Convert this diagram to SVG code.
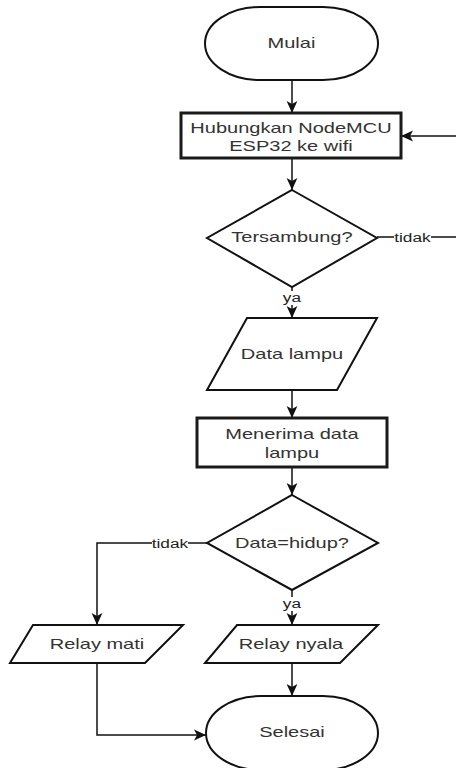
<svg xmlns="http://www.w3.org/2000/svg" width="456" height="768" viewBox="0 0 456 768">
<style>
.bg{fill:#ffffff}
.sh{fill:#ffffff;stroke:#111111;stroke-width:2}
.bx{fill:#ffffff;stroke:#1a1a1a;stroke-width:3}
.ln{fill:none;stroke:#111111;stroke-width:1.5}
.t{font-family:"Liberation Sans",Arial,sans-serif;font-size:14.5px;fill:#333333;text-anchor:middle;dominant-baseline:central;transform-box:fill-box;transform-origin:center;transform:scaleX(1.38)}
.lb{font-family:"Liberation Sans",Arial,sans-serif;font-size:12.5px;fill:#222222;text-anchor:middle;dominant-baseline:central;transform-box:fill-box;transform-origin:center;transform:scaleX(1.38)}
.lbg{fill:#ffffff}
</style>
<defs>
<marker id="arr" markerUnits="userSpaceOnUse" markerWidth="12" markerHeight="12" viewBox="0 0 10 10" refX="10" refY="5" orient="auto">
<path d="M0,0.5 L10,5 L0,9.5 L2.5,5 Z" fill="#111111"/>
</marker>
</defs>
<rect class="bg" x="0" y="0" width="456" height="768"/>
<g id="connectors">
<path class="ln" d="M292,80 V113" marker-end="url(#arr)"/>
<path class="ln" d="M292,158 V190" marker-end="url(#arr)"/>
<path class="ln" d="M377,237 H470 V136 H401" marker-end="url(#arr)"/>
<path class="ln" d="M292,287 V318" marker-end="url(#arr)"/>
<path class="ln" d="M292,390 V418" marker-end="url(#arr)"/>
<path class="ln" d="M292,467 V495" marker-end="url(#arr)"/>
<path class="ln" d="M207,543 H97 V625" marker-end="url(#arr)"/>
<path class="ln" d="M292,590 V625" marker-end="url(#arr)"/>
<path class="ln" d="M292,663 V696" marker-end="url(#arr)"/>
<path class="ln" d="M97,663 V735 H206" marker-end="url(#arr)"/>
<rect class="lbg" x="394" y="229" width="37" height="16"/>
<text class="lb" x="412.5" y="237">tidak</text>
<rect class="lbg" x="284" y="291" width="16" height="14"/>
<text class="lb" x="292" y="297">ya</text>
<rect class="lbg" x="152" y="535" width="36" height="16"/>
<text class="lb" x="170" y="543">tidak</text>
<rect class="lbg" x="284" y="597" width="16" height="14"/>
<text class="lb" x="292" y="603">ya</text>
</g>
<g id="mulai">
<rect class="sh" x="205" y="7" width="173" height="73" rx="55" ry="36.5"/>
<text class="t" x="291.5" y="43">Mulai</text>
</g>
<g id="hubungkan">
<rect class="bx" x="181" y="113" width="220" height="45"/>
<text class="t" x="291" y="128">Hubungkan NodeMCU</text>
<text class="t" x="291" y="146">ESP32 ke wifi</text>
</g>
<g id="tersambung">
<polygon class="sh" points="292,190 377,238 292,287 207,238"/>
<text class="t" x="292" y="237">Tersambung?</text>
</g>
<g id="data-lampu">
<polygon class="sh" points="247,318 377,318 337,390 207,390"/>
<text class="t" x="292" y="354">Data lampu</text>
</g>
<g id="menerima">
<rect class="bx" x="197" y="418" width="190" height="49"/>
<text class="t" x="292" y="434">Menerima data</text>
<text class="t" x="292" y="453">lampu</text>
</g>
<g id="data-hidup">
<polygon class="sh" points="292,495 378,543 292,590 207,543"/>
<text class="t" x="292" y="543">Data=hidup?</text>
</g>
<g id="relay-mati">
<polygon class="sh" points="33,625 183,625 145,663 10,663"/>
<text class="t" x="97" y="644">Relay mati</text>
</g>
<g id="relay-nyala">
<polygon class="sh" points="237,625 378,625 340,663 205,663"/>
<text class="t" x="291" y="644">Relay nyala</text>
</g>
<g id="selesai">
<rect class="sh" x="206" y="696" width="172" height="74" rx="55" ry="37"/>
<text class="t" x="292" y="732">Selesai</text>
</g>
</svg>
